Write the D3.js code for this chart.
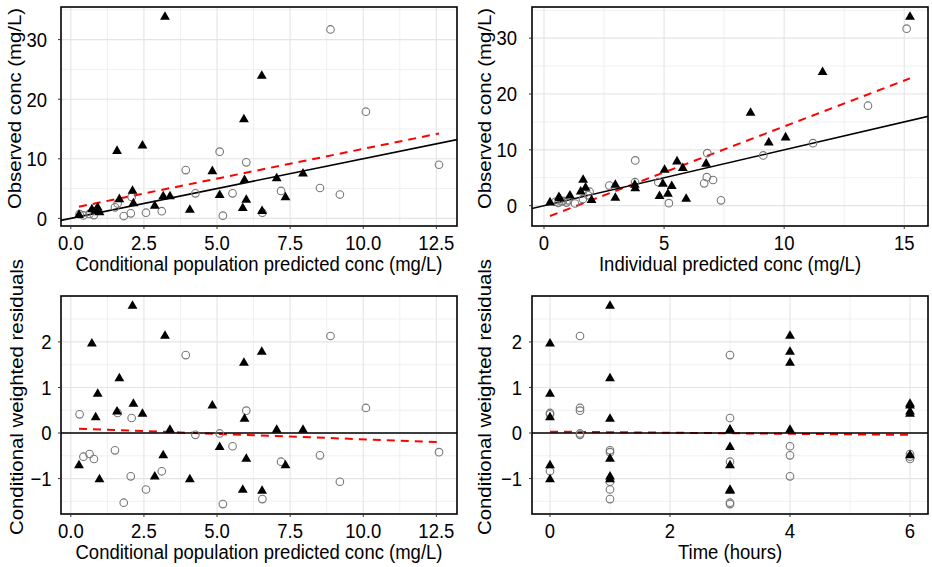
<!DOCTYPE html>
<html><head><meta charset="utf-8">
<script src="https://cdn.jsdelivr.net/npm/d3@7"></script>
<style>
html,body{margin:0;padding:0;background:#fff;}
svg text{font-family:"Liberation Sans",Arial,Helvetica,sans-serif;fill:#000;}
</style></head><body>
<svg id="c" width="932" height="567"></svg>
<script>
// ---------- DATA ----------
// Group A (filled triangles)
const triPred  = [3.22, 6.53, 5.92, 2.45, 1.58, 4.84, 7.04, 7.94, 5.94, 2.11, 1.66, 2.14, 2.87, 3.16, 3.39, 4.07, 5.09, 6.00, 5.88, 6.54, 7.34, 0.28, 0.72, 0.92, 0.98, 0.85];
const triIpred = [15.24, 11.6, 8.6, 10.06, 9.36, 5.54, 5.78, 6.75, 5.02, 1.63, 1.73, 1.53, 5.16, 2.97, 3.78, 2.97, 4.95, 3.80, 4.81, 5.92, 5.32, 0.25, 0.62, 1.08, 1.98, 0.65];
const triDv    = [33.8, 23.9, 16.6, 12.2, 11.3, 7.9, 6.7, 7.5, 6.4, 4.6, 3.2, 2.5, 2.1, 3.7, 3.7, 1.4, 3.9, 3.1, 1.7, 1.2, 3.5, 0.56, 1.5, 1.8, 1.0, 1.3];
const triCwres = [2.13, 1.78, 1.54, 0.42, 0.47, 0.60, 0.07, 0.07, 0.31, 2.79, 1.20, 0.64, -0.96, -0.49, 0.07, -1.02, -0.31, -0.57, -1.25, -1.27, -0.71, -0.71, 1.96, 0.86, -1.02, 0.34];
const triTime  = [4, 4, 4, 6, 6, 6, 3, 4, 1, 1, 1, 6, 1, 6, 3, 1, 3, 1, 3, 3, 3, 0, 0, 0, 0, 0];
// Group B (open circles)
const cirPred  = [8.88, 10.09, 5.09, 6.00, 3.93, 12.59, 8.52, 9.20, 7.19, 5.53, 4.26, 2.08, 1.51, 1.60, 3.11, 2.57, 2.05, 1.81, 5.20, 6.55, 0.30, 0.43, 0.64, 0.79];
const cirIpred = [15.1, 13.49, 11.2, 6.8, 3.8, 9.13, 6.78, 6.67, 7.04, 4.76, 3.79, 2.72, 1.84, 1.90, 1.62, 1.00, 0.79, 1.29, 5.20, 7.37, 0.48, 0.60, 0.73, 0.94];
const cirDv    = [31.7, 17.9, 11.2, 9.4, 8.1, 9.0, 5.1, 4.0, 4.6, 4.2, 4.2, 3.6, 1.85, 2.5, 1.2, 0.95, 0.84, 0.39, 0.45, 0.95, 0.70, 0.50, 0.75, 0.55];
const cirCwres = [2.13, 0.55, -0.01, 0.49, 1.71, -0.42, -0.49, -1.07, -0.63, -0.29, -0.04, 0.33, -0.38, 0.44, -0.84, -1.24, -0.95, -1.53, -1.56, -1.45, 0.41, -0.52, -0.46, -0.57];
const cirTime  = [0.5, 0.5, 0.5, 0.5, 3, 1, 4, 1, 3, 4, 0.5, 3, 1, 0, 0, 1, 4, 3, 3, 1, 0, 6, 6, 6];
// Red dashed trend lines (start / end points)
const fitPredDv    = [[0.28, 1.96], [12.59, 14.25]];
const fitIpredDv   = [[0.25, -1.86], [15.24, 22.8]];
const fitPredCwres = [[0.28, 0.095], [12.59, -0.20]];
const fitTimeCwres = [[0, 0.03], [6, -0.04]];
// Tick values
const predTicks  = [0, 2.5, 5, 7.5, 10, 12.5];
const ipredTicks = [0, 5, 10, 15];
const concTicks  = [0, 10, 20, 30];
const cwresTicks = [-1, 0, 1, 2];
const timeTicks  = [0, 2, 4, 6];

// ---------- DRAWING ----------
const svg = d3.select("#c");
const FS = 18.5, SY = 1.1;
const triPath = d3.symbol().type(d3.symbolTriangle).size(42)();

function zip(xs, ys){ return xs.map((v,i)=>[v, ys[i]]); }
function padExt(vals){
  const [a,b] = d3.extent(vals); const p = (b-a)*0.05; return [a-p, b+p];
}
function minors(ticks, dom){
  const st = ticks[1]-ticks[0]; const out=[];
  for(let v = ticks[0]-st/2; v <= ticks[ticks.length-1]+st/2+1e-9; v+=st){
    if(v>=dom[0] && v<=dom[1]) out.push(v);
  }
  return out;
}
function txt(g, x, y, s, anchor, rot){
  g.append("text").attr("text-anchor", anchor).style("font-size", FS+"px")
   .attr("transform", `translate(${x},${y}) scale(1,${SY})` + (rot ? " rotate(-90)" : ""))
   .text(s);
}

let clipId = 0;
function panel(cfg){
  const {box, tri, cir, fit, xTicks, xFmt, yTicks, yFmt, xTitle, yTitle, ref, ytickGap, ytitleOff} = cfg;
  const allX = tri.map(d=>d[0]).concat(cir.map(d=>d[0]), fit.map(d=>d[0]));
  const allY = tri.map(d=>d[1]).concat(cir.map(d=>d[1]), fit.map(d=>d[1]));
  const x = d3.scaleLinear().domain(padExt(allX)).range([box.x0, box.x1]);
  const y = d3.scaleLinear().domain(padExt(allY)).range([box.y1, box.y0]);
  const g = svg.append("g");
  const id = "clip"+(clipId++);
  g.append("clipPath").attr("id", id).append("rect")
    .attr("x", box.x0).attr("y", box.y0).attr("width", box.x1-box.x0).attr("height", box.y1-box.y0);
  // grid
  const grid = g.append("g");
  minors(xTicks, x.domain()).forEach(v=>grid.append("line").attr("x1",x(v)).attr("x2",x(v)).attr("y1",box.y0).attr("y2",box.y1).attr("stroke","#f0f0f0").attr("stroke-width",1));
  minors(yTicks, y.domain()).forEach(v=>grid.append("line").attr("y1",y(v)).attr("y2",y(v)).attr("x1",box.x0).attr("x2",box.x1).attr("stroke","#f0f0f0").attr("stroke-width",1));
  xTicks.forEach(v=>grid.append("line").attr("x1",x(v)).attr("x2",x(v)).attr("y1",box.y0).attr("y2",box.y1).attr("stroke","#e4e4e4").attr("stroke-width",1.1));
  yTicks.forEach(v=>grid.append("line").attr("y1",y(v)).attr("y2",y(v)).attr("x1",box.x0).attr("x2",box.x1).attr("stroke","#e4e4e4").attr("stroke-width",1.1));
  const plot = g.append("g").attr("clip-path", `url(#${id})`);
  // red dashed trend
  plot.append("path").attr("d", d3.line().x(d=>x(d[0])).y(d=>y(d[1]))(fit))
    .attr("fill","none").attr("stroke","#ff0000").attr("stroke-width",2).attr("stroke-dasharray","8,6");
  // reference line
  if(ref === "identity"){
    const lo = Math.min(x.domain()[0], y.domain()[0]), hi = Math.max(x.domain()[1], y.domain()[1]);
    plot.append("line").attr("x1",x(lo)).attr("y1",y(lo)).attr("x2",x(hi)).attr("y2",y(hi))
      .attr("stroke","#000").attr("stroke-width",1.6);
  } else {
    plot.append("line").attr("x1",box.x0).attr("x2",box.x1).attr("y1",y(0)).attr("y2",y(0))
      .attr("stroke","#000").attr("stroke-width",1.6);
  }
  // points
  plot.selectAll("circle.c").data(cir).enter().append("circle")
    .attr("cx",d=>x(d[0])).attr("cy",d=>y(d[1])).attr("r",3.8)
    .attr("fill","none").attr("stroke","#777").attr("stroke-width",1.1);
  plot.selectAll("path.t").data(tri).enter().append("path")
    .attr("d", triPath).attr("transform", d=>`translate(${x(d[0])},${y(d[1])})`).attr("fill","#000");
  // border
  g.append("rect").attr("x",box.x0).attr("y",box.y0).attr("width",box.x1-box.x0).attr("height",box.y1-box.y0)
    .attr("fill","none").attr("stroke","#000").attr("stroke-width",1.6);
  // ticks
  const tk = g.append("g").attr("stroke","#333").attr("stroke-width",1);
  xTicks.forEach(v=>tk.append("line").attr("x1",x(v)).attr("x2",x(v)).attr("y1",box.y1).attr("y2",box.y1+3));
  yTicks.forEach(v=>tk.append("line").attr("y1",y(v)).attr("y2",y(v)).attr("x1",box.x0-3).attr("x2",box.x0));
  xTicks.forEach(v=>txt(g, x(v), box.y1+24, xFmt(v), "middle"));
  yTicks.forEach(v=>txt(g, box.x0-ytickGap, y(v)+0.36*FS*SY, yFmt(v), "end"));
  txt(g, (box.x0+box.x1)/2, box.y1+45, xTitle, "middle");
  txt(g, box.x0-ytitleOff, (box.y0+box.y1)/2-8, yTitle, "middle", true);
}

const f1 = d3.format(".1f"), f0 = d3.format("d");
panel({box:{x0:61,x1:457,y0:7,y1:226}, tri:zip(triPred,triDv), cir:zip(cirPred,cirDv), fit:fitPredDv,
  xTicks:predTicks, xFmt:f1, yTicks:concTicks, yFmt:f0, ref:"identity", ytickGap:14, ytitleOff:40,
  xTitle:"Conditional population predicted conc (mg/L)", yTitle:"Observed conc (mg/L)"});
panel({box:{x0:532,x1:928,y0:7,y1:226}, tri:zip(triIpred,triDv), cir:zip(cirIpred,cirDv), fit:fitIpredDv,
  xTicks:ipredTicks, xFmt:f0, yTicks:concTicks, yFmt:f0, ref:"identity", ytickGap:15, ytitleOff:41,
  xTitle:"Individual predicted conc (mg/L)", yTitle:"Observed conc (mg/L)"});
panel({box:{x0:61,x1:457,y0:296,y1:514}, tri:zip(triPred,triCwres), cir:zip(cirPred,cirCwres), fit:fitPredCwres,
  xTicks:predTicks, xFmt:f1, yTicks:cwresTicks, yFmt:f0, ref:"zero", ytickGap:9.5, ytitleOff:38.5,
  xTitle:"Conditional population predicted conc (mg/L)", yTitle:"Conditional weighted residuals"});
panel({box:{x0:532,x1:928,y0:296,y1:514}, tri:zip(triTime,triCwres), cir:zip(cirTime,cirCwres), fit:fitTimeCwres,
  xTicks:timeTicks, xFmt:f0, yTicks:cwresTicks, yFmt:f0, ref:"zero", ytickGap:10, ytitleOff:41,
  xTitle:"Time (hours)", yTitle:"Conditional weighted residuals"});
</script>
</body></html>
